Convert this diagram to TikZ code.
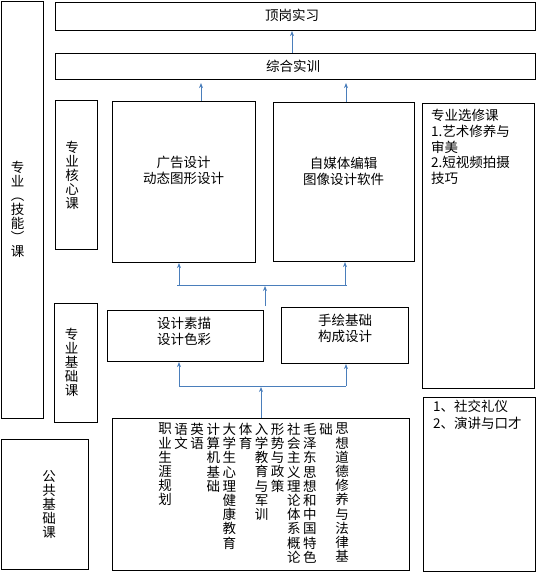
\documentclass[tikz,border=0pt]{standalone}
\usepackage{fontspec}
\setmainfont{Noto Sans CJK SC}
\usetikzlibrary{arrows.meta,calc}
\definecolor{arrblue}{RGB}{74,126,187}
\tikzset{
  box/.style={draw=black, line width=1.1pt, inner sep=0pt, anchor=north west, fill=none},
  arr/.style={draw=arrblue, line width=0.9pt, -{Stealth[length=5pt,width=4pt]}},
  ln/.style={draw=arrblue, line width=0.9pt},
  txt/.style={font=\fontsize{13.5}{15.8}\selectfont, align=center, inner sep=0pt},
  ltxt/.style={font=\fontsize{13.5}{15.8}\selectfont, align=left, inner sep=0pt, anchor=north west},
  vtxt/.style={font=\fontsize{13.5}{14}\selectfont, align=center, inner sep=0pt},
  ctxt/.style={font=\fontsize{13.5}{14.2}\selectfont, align=center, inner sep=0pt, anchor=north},
}
\begin{document}
\begin{tikzpicture}[x=1pt,y=-1pt]
\useasboundingbox (0,0) rectangle (536,572);
% boxes
\node[box, minimum width=42pt, minimum height=417pt] (outer) at (1,1) {};
\node[box, minimum width=480pt, minimum height=28pt] (dg) at (55,2) {};
\node[box, minimum width=480pt, minimum height=26pt] (zh) at (55,53) {};
\node[box, minimum width=42pt, minimum height=149pt] (hx) at (55,100) {};
\node[box, minimum width=143pt, minimum height=161pt] (coreL) at (112,101) {};
\node[box, minimum width=141pt, minimum height=159pt] (coreR) at (273,102) {};
\node[box, minimum width=112pt, minimum height=285pt] (xx) at (422,103) {};
\node[box, minimum width=43pt, minimum height=119pt] (jc) at (54,303) {};
\node[box, minimum width=156pt, minimum height=51pt] (sm) at (107,310) {};
\node[box, minimum width=127pt, minimum height=56pt] (sh) at (281,307) {};
\node[box, minimum width=297pt, minimum height=152pt] (base) at (112,418) {};
\node[box, minimum width=87pt, minimum height=130pt] (gg) at (1,439) {};
\node[box, minimum width=112pt, minimum height=174pt] (sj) at (423,397) {};
% texts
\node[txt] (tdg) at (292,15) {顶岗实习};
\node[txt] (tzh) at (293,66) {综合实训};
\node[vtxt] (touter) at (17.5,209) {专\\业\\︵\\技\\能\\︶\\课};
\node[vtxt] (thx) at (72,175) {专\\业\\核\\心\\课};
\node[vtxt] (tjc) at (71.5,362) {专\\业\\基\\础\\课};
\node[vtxt] (tgg) at (49,504) {公\\共\\基\\础\\课};
\node[txt] (tcoreL) at (183.5,170.5) {广告设计\\动态图形设计};
\node[txt] (tcoreR) at (343.5,171) {自媒体编辑\\图像设计软件};
\node[ltxt] (txx) at (431,109) {专业选修课\\1.艺术修养与\\审美\\2.短视频拍摄\\技巧};
\node[txt] (tsm) at (184,331) {设计素描\\设计色彩};
\node[txt] (tsh) at (345,328.5) {手绘基础\\构成设计};
\node[ltxt, font=\fontsize{13.5}{16.7}\selectfont] (tsj) at (433,400) {1、社交礼仪\\2、演讲与口才};
% base columns
\node[ctxt] (c1) at (165,423) {职\\业\\生\\涯\\规\\划};
\node[ctxt] (c2) at (181.1,423) {语\\文};
\node[ctxt] (c3) at (197.2,423) {英\\语};
\node[ctxt] (c4) at (213.3,423) {计\\算\\机\\基\\础};
\node[ctxt] (c5) at (229.4,423) {大\\学\\生\\心\\理\\健\\康\\教\\育};
\node[ctxt] (c6) at (245.5,423) {体\\育};
\node[ctxt] (c7) at (261.6,423) {入\\学\\教\\育\\与\\军\\训};
\node[ctxt] (c8) at (277.7,423) {形\\势\\与\\政\\策};
\node[ctxt] (c9) at (293.8,423) {社\\会\\主\\义\\理\\论\\体\\系\\概\\论};
\node[ctxt] (c10) at (309.9,423) {毛\\泽\\东\\思\\想\\和\\中\\国\\特\\色};
\node[ctxt] (c11) at (326,423) {础};
\node[ctxt] (c12) at (342.1,423) {思\\想\\道\\德\\修\\养\\与\\法\\律\\基};
% connectors
\draw[arr] (zh.north -| 292,0) -- (dg.south -| 292,0);
\draw[arr] (coreL.north -| 201,0) -- ($(zh.south -| 201,0)+(0,3)$);
\draw[arr] (coreR.north -| 346,0) -- ($(zh.south -| 346,0)+(0,3)$);
\coordinate (h1a) at (177,285);
\coordinate (h1b) at (347,285);
\draw[ln] (h1a) -- (h1b);
\draw[arr] (h1a -| 179,0) -- (coreL.south -| 179,0);
\draw[arr] (h1b -| 345,0) -- (coreR.south -| 345,0);
\coordinate (up1) at (265,306);
\draw[arr] (up1) -- ($(up1 |- h1a)+(0,1)$);
\coordinate (h2a) at (179,386);
\coordinate (h2b) at (346,386);
\draw[ln] (h2a) -- (h2b);
\draw[arr] (h2a) -- (sm.south -| h2a);
\draw[arr] (h2b) -- (sh.south -| h2b);
\draw[arr] (base.north -| 261,0) -- ($(h2a -| 261,0)+(0,1)$);
\end{tikzpicture}
\end{document}
